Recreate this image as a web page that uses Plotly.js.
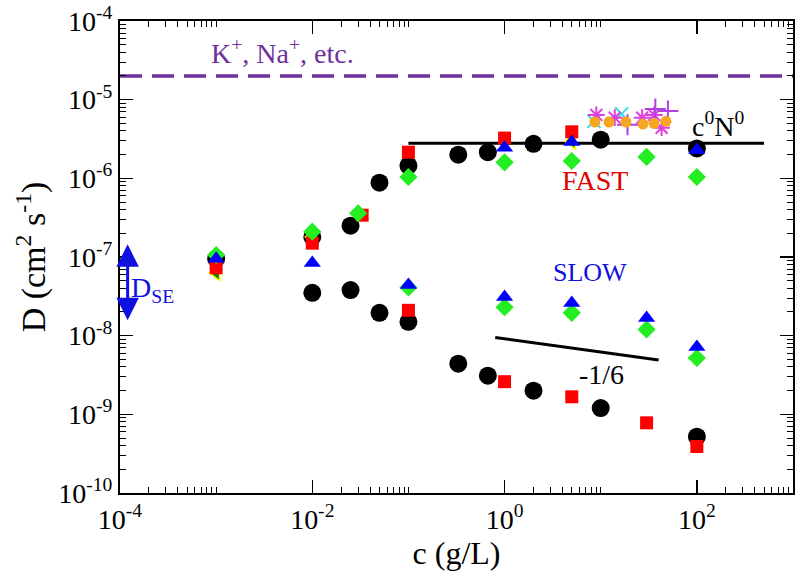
<!DOCTYPE html>
<html>
<head>
<meta charset="utf-8">
<script src="https://cdn.plot.ly/plotly-3.0.1.min.js"></script>
<style>body{margin:0;background:#fff;}</style>
</head>
<body>
<div id="chart" style="width:796px;height:575px;"></div>
<script>
// black circles (fast and slow branch)
var circX = [1e-3, 1e-2, 1e-2, 0.025, 0.025, 0.05, 0.05, 0.1, 0.1, 0.33, 0.33, 0.67, 0.67, 2, 2, 10, 10, 100, 100];
var circY = [9.5e-8, 1.8e-7, 3.5e-8, 2.5e-7, 3.8e-8, 8.8e-7, 1.95e-8, 1.45e-6, 1.5e-8, 2.0e-6, 4.4e-9, 2.15e-6, 3.1e-9, 2.75e-6, 2.0e-9, 3.1e-6, 1.2e-9, 2.4e-6, 5.2e-10];
// red squares
var sqX = [1e-3, 1e-2, 0.033, 0.1, 0.1, 1, 1, 5, 5, 30, 100];
var sqY = [7.3e-8, 1.5e-7, 3.4e-7, 2.15e-6, 2.1e-8, 3.25e-6, 2.6e-9, 3.9e-6, 1.67e-9, 7.8e-10, 3.9e-10];
// green diamonds
var diaX = [1e-3, 1e-2, 0.03, 0.1, 0.1, 1, 1, 5, 5, 30, 30, 100, 100];
var diaY = [1.06e-7, 2.1e-7, 3.6e-7, 1.04e-6, 4.1e-8, 1.6e-6, 2.3e-8, 1.66e-6, 1.95e-8, 1.87e-6, 1.2e-8, 1.04e-6, 5.2e-9];
// blue triangles
var triX = [1e-3, 1e-2, 0.1, 1, 1, 5, 5, 30, 100, 100];
var triY = [9.5e-8, 8.4e-8, 4.4e-8, 2.45e-6, 3.1e-8, 2.9e-6, 2.6e-8, 1.68e-8, 2.3e-6, 7.2e-9];
// green left triangles, yellow edge
var tlX = [1e-3, 1e-2, 5];
var tlY = [6.3e-8, 1.8e-7, 2.95e-6];
// cluster near 10-50 g/L
var orX = [8.7, 12.2, 18.3, 27.5, 35.8, 47.7];
var orY = [5.2e-6, 5.2e-6, 5.2e-6, 4.9e-6, 5.0e-6, 5.3e-6];
var astX = [9, 14, 27, 36, 43];
var astY = [6.4e-6, 5.9e-6, 5.9e-6, 6.4e-6, 4.4e-6];
var cxX = [8.5, 16.5];
var cxY = [5.3e-6, 6.6e-6];
var plX = [19, 37, 50];
var plY = [4.8e-6, 7.6e-6, 7.2e-6];
// guide lines
var ionX = [1e-4, 1e3];
var ionY = [2e-5, 2e-5];
var platX = [0.1, 500];
var platY = [2.8e-6, 2.8e-6];
var slopeX = [0.8, 40];
var slopeY = [9.5e-9, 4.9e-9];
// D_SE range (arrow ends)
var dseX = 1.2e-4;
var dseY = [1.45e-7, 1.5e-8];
// ticks
var xTickVals = [1e-4, 1e-2, 1, 100];
var xTickText = ['10<sup>-4</sup>', '10<sup>-2</sup>', '10<sup>0</sup>', '10<sup>2</sup>'];
var yTickVals = [1e-10, 1e-9, 1e-8, 1e-7, 1e-6, 1e-5, 1e-4];
var yTickText = ['10<sup>-10</sup>', '10<sup>-9</sup>', '10<sup>-8</sup>', '10<sup>-7</sup>', '10<sup>-6</sup>', '10<sup>-5</sup>', '10<sup>-4</sup>'];

var xMinor = [];
[1e-4, 1e-2, 1, 100].forEach(function (d) {
  for (var k = 2; k <= 10; k++) xMinor.push(d * k);
});
var yMinor = [];
for (var e = -10; e < -4; e++) {
  for (var k = 2; k <= 9; k++) yMinor.push(k * Math.pow(10, e));
}

var font = 'Liberation Serif';

var data = [
  {x: ionX, y: ionY, mode: 'lines', line: {color: '#7030a0', width: 3.5, dash: '22px,10px'}},
  {x: platX, y: platY, mode: 'lines', line: {color: '#000', width: 3}},
  {x: slopeX, y: slopeY, mode: 'lines', line: {color: '#000', width: 3}},
  {x: circX, y: circY, mode: 'markers', marker: {symbol: 'circle', size: 18, color: '#000'}},
  {x: tlX, y: tlY, mode: 'markers', marker: {symbol: 'triangle-left', size: 14, color: '#108010', line: {color: '#ffff00', width: 1.5}}},
  {x: sqX, y: sqY, mode: 'markers', marker: {symbol: 'square', size: 13, color: '#ff0000'}},
  {x: diaX, y: diaY, mode: 'markers', marker: {symbol: 'diamond', size: 14, color: '#22ee22'}},
  {x: triX, y: triY, mode: 'markers', marker: {symbol: 'triangle-up', size: 15, color: '#0000ff'}},
  {x: cxX, y: cxY, mode: 'markers', marker: {symbol: 'x-thin-open', size: 13, color: '#33dddd', line: {width: 2}}},
  {x: astX, y: astY, mode: 'markers', marker: {symbol: 'asterisk-open', size: 14, color: '#e040e0', line: {width: 2}}},
  {x: plX, y: plY, mode: 'markers', marker: {symbol: 'cross-thin-open', size: 15, color: '#b040e0', line: {width: 2}}},
  {x: orX, y: orY, mode: 'markers', marker: {symbol: 'circle', size: 11, color: '#f5a623'}}
];

var ann = function (x, y, text, color, size) {
  return {xref: 'paper', yref: 'paper', x: x, y: y, xanchor: 'center', yanchor: 'middle',
    text: text, showarrow: false, font: {family: font, size: size, color: color}};
};

var layout = {
  width: 796, height: 575,
  margin: {l: 120, r: 3, t: 21, b: 82},
  paper_bgcolor: '#fff', plot_bgcolor: '#fff',
  showlegend: false,
  font: {family: font, color: '#000'},
  xaxis: {
    type: 'log', range: [-4, 3],
    tickmode: 'array', tickvals: xTickVals, ticktext: xTickText,
    ticks: 'inside', ticklen: 13, tickwidth: 1.5, tickcolor: '#000',
    showline: true, linecolor: '#000', linewidth: 2, mirror: 'ticks',
    showgrid: false, zeroline: false,
    tickfont: {family: font, size: 28},
    minor: {tickmode: 'array', tickvals: xMinor, ticks: 'inside', ticklen: 6, tickwidth: 1, tickcolor: '#000', showgrid: false},
    title: {text: 'c (g/L)', font: {family: font, size: 32}, standoff: 4}
  },
  yaxis: {
    type: 'log', range: [-10, -4],
    tickmode: 'array', tickvals: yTickVals, ticktext: yTickText,
    ticks: 'inside', ticklen: 13, tickwidth: 1.5, tickcolor: '#000',
    showline: true, linecolor: '#000', linewidth: 2, mirror: 'ticks',
    showgrid: false, zeroline: false,
    tickfont: {family: font, size: 28},
    minor: {tickmode: 'array', tickvals: yMinor, ticks: 'inside', ticklen: 6, tickwidth: 1, tickcolor: '#000', showgrid: false},
    title: {text: 'D (cm<sup>2</sup> s<sup>-1</sup>)', font: {family: font, size: 34}, standoff: 2}
  },
  annotations: [
    ann(0.242, 0.935, 'K<sup>+</sup>, Na<sup>+</sup>, etc.', '#7030a0', 28),
    ann(0.889, 0.78, 'c<sup>0</sup>N<sup>0</sup>', '#000', 28),
    ann(0.706, 0.663, 'FAST', '#e00000', 28),
    ann(0.698, 0.468, 'SLOW', '#1010e0', 26),
    ann(0.715, 0.252, '-1/6', '#000', 28),
    ann(0.048, 0.432, 'D<sub>SE</sub>', '#1010e0', 28),
    {xref: 'x', yref: 'y', axref: 'x', ayref: 'y',
      x: Math.log10(dseX), y: Math.log10(dseY[0]), ax: Math.log10(dseX), ay: Math.log10(dseY[1]),
      text: '', showarrow: true, arrowside: 'end+start', arrowhead: 2, arrowsize: 1.5,
      arrowwidth: 3, arrowcolor: '#1010e0', standoff: 0, startstandoff: 0}
  ]
};

Plotly.newPlot('chart', data, layout, {displayModeBar: false, staticPlot: true});
</script>
</body>
</html>
